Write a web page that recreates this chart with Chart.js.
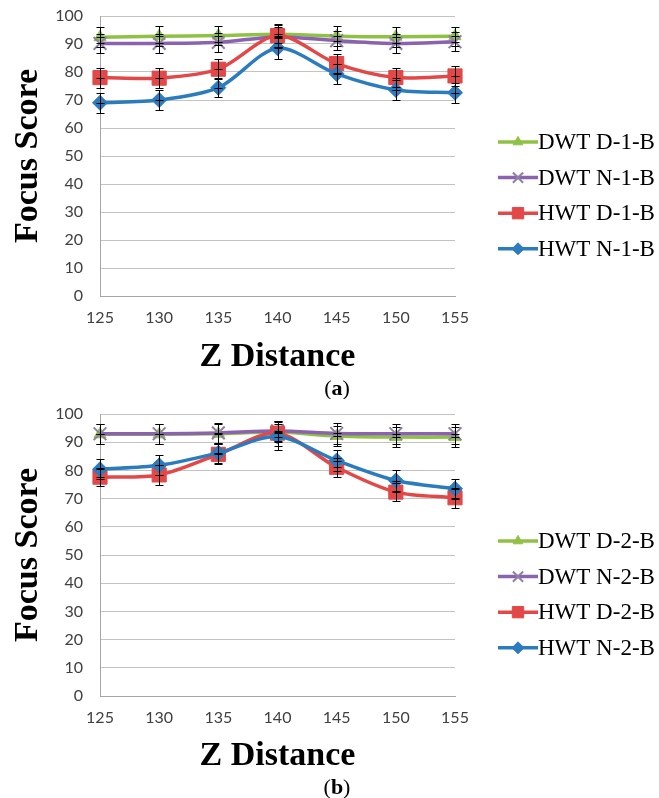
<!DOCTYPE html>
<html>
<head>
<meta charset="utf-8">
<script src="https://cdn.jsdelivr.net/npm/chart.js@4.4.0/dist/chart.umd.min.js"></script>
<style>
  body { margin: 0; background: #fff; }
  canvas { display: block; }
</style>
</head>
<body>
<canvas id="chartA" width="659" height="399"></canvas>
<canvas id="chartB" width="659" height="399"></canvas>
<script>
// x categories (Z distance) and y axis range
const zDistance = ['125', '130', '135', '140', '145', '150', '155'];
const yMin = 0, yMax = 100, yStep = 10;

// panel (a)
const namesA = ['DWT D-1-B', 'DWT N-1-B', 'HWT D-1-B', 'HWT N-1-B'];
const dwtD1 = [92.4, 92.8, 93.0, 93.5, 92.8, 92.6, 92.8];
const dwtN1 = [90.2, 90.2, 90.6, 92.5, 91.2, 90.2, 90.8];
const hwtD1 = [78.0, 77.8, 81.0, 93.0, 83.0, 78.0, 78.6];
const hwtN1 = [69.0, 70.0, 74.4, 88.5, 79.3, 73.6, 72.6];
const dwtD1Err = [3.5, 3.6, 3.5, 3.2, 3.5, 3.6, 3.4];
const dwtN1Err = [3.4, 3.4, 3.5, 3.5, 3.4, 3.5, 3.4];
const hwtD1Err = [3.6, 3.5, 3.5, 4.0, 3.5, 3.5, 3.6];
const hwtN1Err = [3.6, 3.5, 3.5, 3.8, 3.6, 3.5, 3.6];

// panel (b)
const namesB = ['DWT D-2-B', 'DWT N-2-B', 'HWT D-2-B', 'HWT N-2-B'];
const dwtD2 = [92.8, 92.8, 93.0, 93.6, 92.2, 91.8, 91.8];
const dwtN2 = [93.0, 93.0, 93.3, 94.0, 93.1, 93.0, 93.0];
const hwtD2 = [77.6, 78.4, 85.7, 93.2, 81.1, 72.3, 70.3];
const hwtN2 = [80.4, 81.8, 86.2, 92.0, 83.5, 76.4, 73.5];
const dwtD2Err = [3.6, 3.6, 3.6, 3.5, 3.6, 3.5, 3.5];
const dwtN2Err = [3.6, 3.6, 3.6, 3.5, 3.6, 3.5, 3.5];
const hwtD2Err = [3.2, 3.5, 3.6, 4.4, 3.4, 3.3, 3.6];
const hwtN2Err = [3.6, 3.5, 3.6, 4.6, 3.6, 3.6, 3.6];

const GREEN = '#8fc244', PURPLE = '#8b62b0', RED = '#e24848', BLUE = '#2b7bbf';

Chart.defaults.font.family = 'Lato';

function series(label, data, errors, color, style, radius, order) {
    return {
        label: label,
        data: data,
        errors: errors,
        borderColor: color,
        borderWidth: 3.5,
        tension: 0.3,
        pointStyle: style,
        pointRadius: radius,
        pointBackgroundColor: style == 'crossRot' ? '#8f80a3' : color,
        pointBorderColor: style == 'crossRot' ? '#8f80a3' : color,
        pointBorderWidth: style == 'crossRot' ? 2 : 1,
        order: order
    };
}

// black error bars on top of the markers
const errorBars = {
    id: 'errorBars',
    afterDatasetsDraw(chart) {
        const ctx = chart.ctx, ys = chart.scales.y;
        ctx.save();
        ctx.strokeStyle = '#000';
        ctx.lineWidth = 1;
        chart.data.datasets.forEach((ds, i) => {
            chart.getDatasetMeta(i).data.forEach((pt, j) => {
                const x = Math.round(pt.x) + 0.5;
                const top = Math.round(ys.getPixelForValue(ds.data[j] + ds.errors[j])) + 0.5;
                const bot = Math.round(ys.getPixelForValue(ds.data[j] - ds.errors[j])) + 0.5;
                const mid = Math.round(pt.y) + 0.5;
                ctx.beginPath();
                ctx.moveTo(x, top); ctx.lineTo(x, bot);
                ctx.moveTo(x - 4, top); ctx.lineTo(x + 4, top);
                ctx.moveTo(x - 4, bot); ctx.lineTo(x + 4, bot);
                ctx.moveTo(x - 4, mid); ctx.lineTo(x + 4, mid);
                ctx.stroke();
            });
        });
        ctx.restore();
    }
};

// legend on the right: line + marker + name, and the (a)/(b) panel label
const sideLegend = {
    id: 'sideLegend',
    afterDraw(chart, args, opts) {
        const ctx = chart.ctx;
        ctx.save();
        chart.data.datasets.forEach((ds, i) => {
            const yy = opts.top + i * opts.gap;
            ctx.strokeStyle = ds.borderColor;
            ctx.lineWidth = 3.5;
            ctx.beginPath();
            ctx.moveTo(opts.x, yy); ctx.lineTo(opts.x + 40, yy);
            ctx.stroke();
            ctx.fillStyle = ds.pointBackgroundColor;
            ctx.strokeStyle = ds.pointBorderColor;
            ctx.lineWidth = ds.pointBorderWidth;
            Chart.helpers.drawPoint(ctx, {
                pointStyle: ds.pointStyle,
                radius: ds.pointRadius * 0.8,
                rotation: 0,
                borderWidth: ds.pointBorderWidth
            }, opts.x + 20, yy);
            ctx.fillStyle = '#000';
            ctx.font = '23px "Liberation Serif"';
            ctx.textBaseline = 'middle';
            ctx.textAlign = 'left';
            ctx.fillText(ds.label, opts.x + 40, yy + 1);
        });
        // panel label "(a)" with bold letter
        const normal = '22px "Liberation Serif"', bold = 'bold 22px "Liberation Serif"';
        ctx.font = normal;
        const wp = ctx.measureText('(').width, wq = ctx.measureText(')').width;
        ctx.font = bold;
        const wl = ctx.measureText(opts.panel).width;
        let px = opts.panelX - (wp + wl + wq) / 2;
        ctx.fillStyle = '#000';
        ctx.font = normal; ctx.fillText('(', px, opts.panelY); px += wp;
        ctx.font = bold; ctx.fillText(opts.panel, px, opts.panelY); px += wl;
        ctx.font = normal; ctx.fillText(')', px, opts.panelY);
        ctx.restore();
    }
};

function makeChart(id, names, values, errors, padTop, xHeight, panel) {
    const styles = ['triangle', 'crossRot', 'rect', 'rectRot'];
    const radii = [7, 9, 10, 7.5];
    const colors = [GREEN, PURPLE, RED, BLUE];
    const datasets = names.map((n, i) => series(n, values[i], errors[i], colors[i], styles[i], radii[i], 3 - i));
    const titleFont = { family: 'Liberation Serif', size: 34, weight: 'bold' };
    return new Chart(document.getElementById(id).getContext('2d'), {
        type: 'line',
        data: { labels: zDistance, datasets: datasets },
        options: {
            responsive: false,
            animation: false,
            events: [],
            layout: { padding: { top: padTop, right: 204, bottom: 0, left: 0 } },
            plugins: {
                legend: { display: false },
                tooltip: { enabled: false },
                sideLegend: { x: 498, top: 142, gap: 35.6, panel: panel, panelX: 337, panelY: 389 }
            },
            scales: {
                x: {
                    offset: false,
                    grid: { display: false, drawTicks: false },
                    border: { display: true, color: '#a6a6a6', width: 1 },
                    ticks: { color: '#404040', font: { size: 16 }, padding: 12, maxRotation: 0 },
                    title: { display: true, text: 'Z Distance', color: '#000', font: titleFont, padding: { top: 0, bottom: 21 } },
                    afterFit: s => { s.height = xHeight; }
                },
                y: {
                    min: yMin, max: yMax,
                    // invisible tick marks push the labels away from the axis
                    grid: { color: '#c3c3c3', drawTicks: true, tickLength: 17, tickColor: 'rgba(0,0,0,0)' },
                    border: { display: true, color: '#a6a6a6', width: 1 },
                    ticks: { stepSize: yStep, color: '#404040', font: { size: 16 }, padding: 0 },
                    title: { display: true, text: 'Focus Score', color: '#000', font: titleFont, padding: { top: 8, bottom: 0 } },
                    afterFit: s => { s.width = 100; }
                }
            }
        },
        plugins: [errorBars, sideLegend]
    });
}

makeChart('chartA', namesA, [dwtD1, dwtN1, hwtD1, hwtN1], [dwtD1Err, dwtN1Err, hwtD1Err, hwtN1Err], 16, 103, 'a');
makeChart('chartB', namesB, [dwtD2, dwtN2, hwtD2, hwtN2], [dwtD2Err, dwtN2Err, hwtD2Err, hwtN2Err], 15, 102, 'b');
</script>
</body>
</html>
